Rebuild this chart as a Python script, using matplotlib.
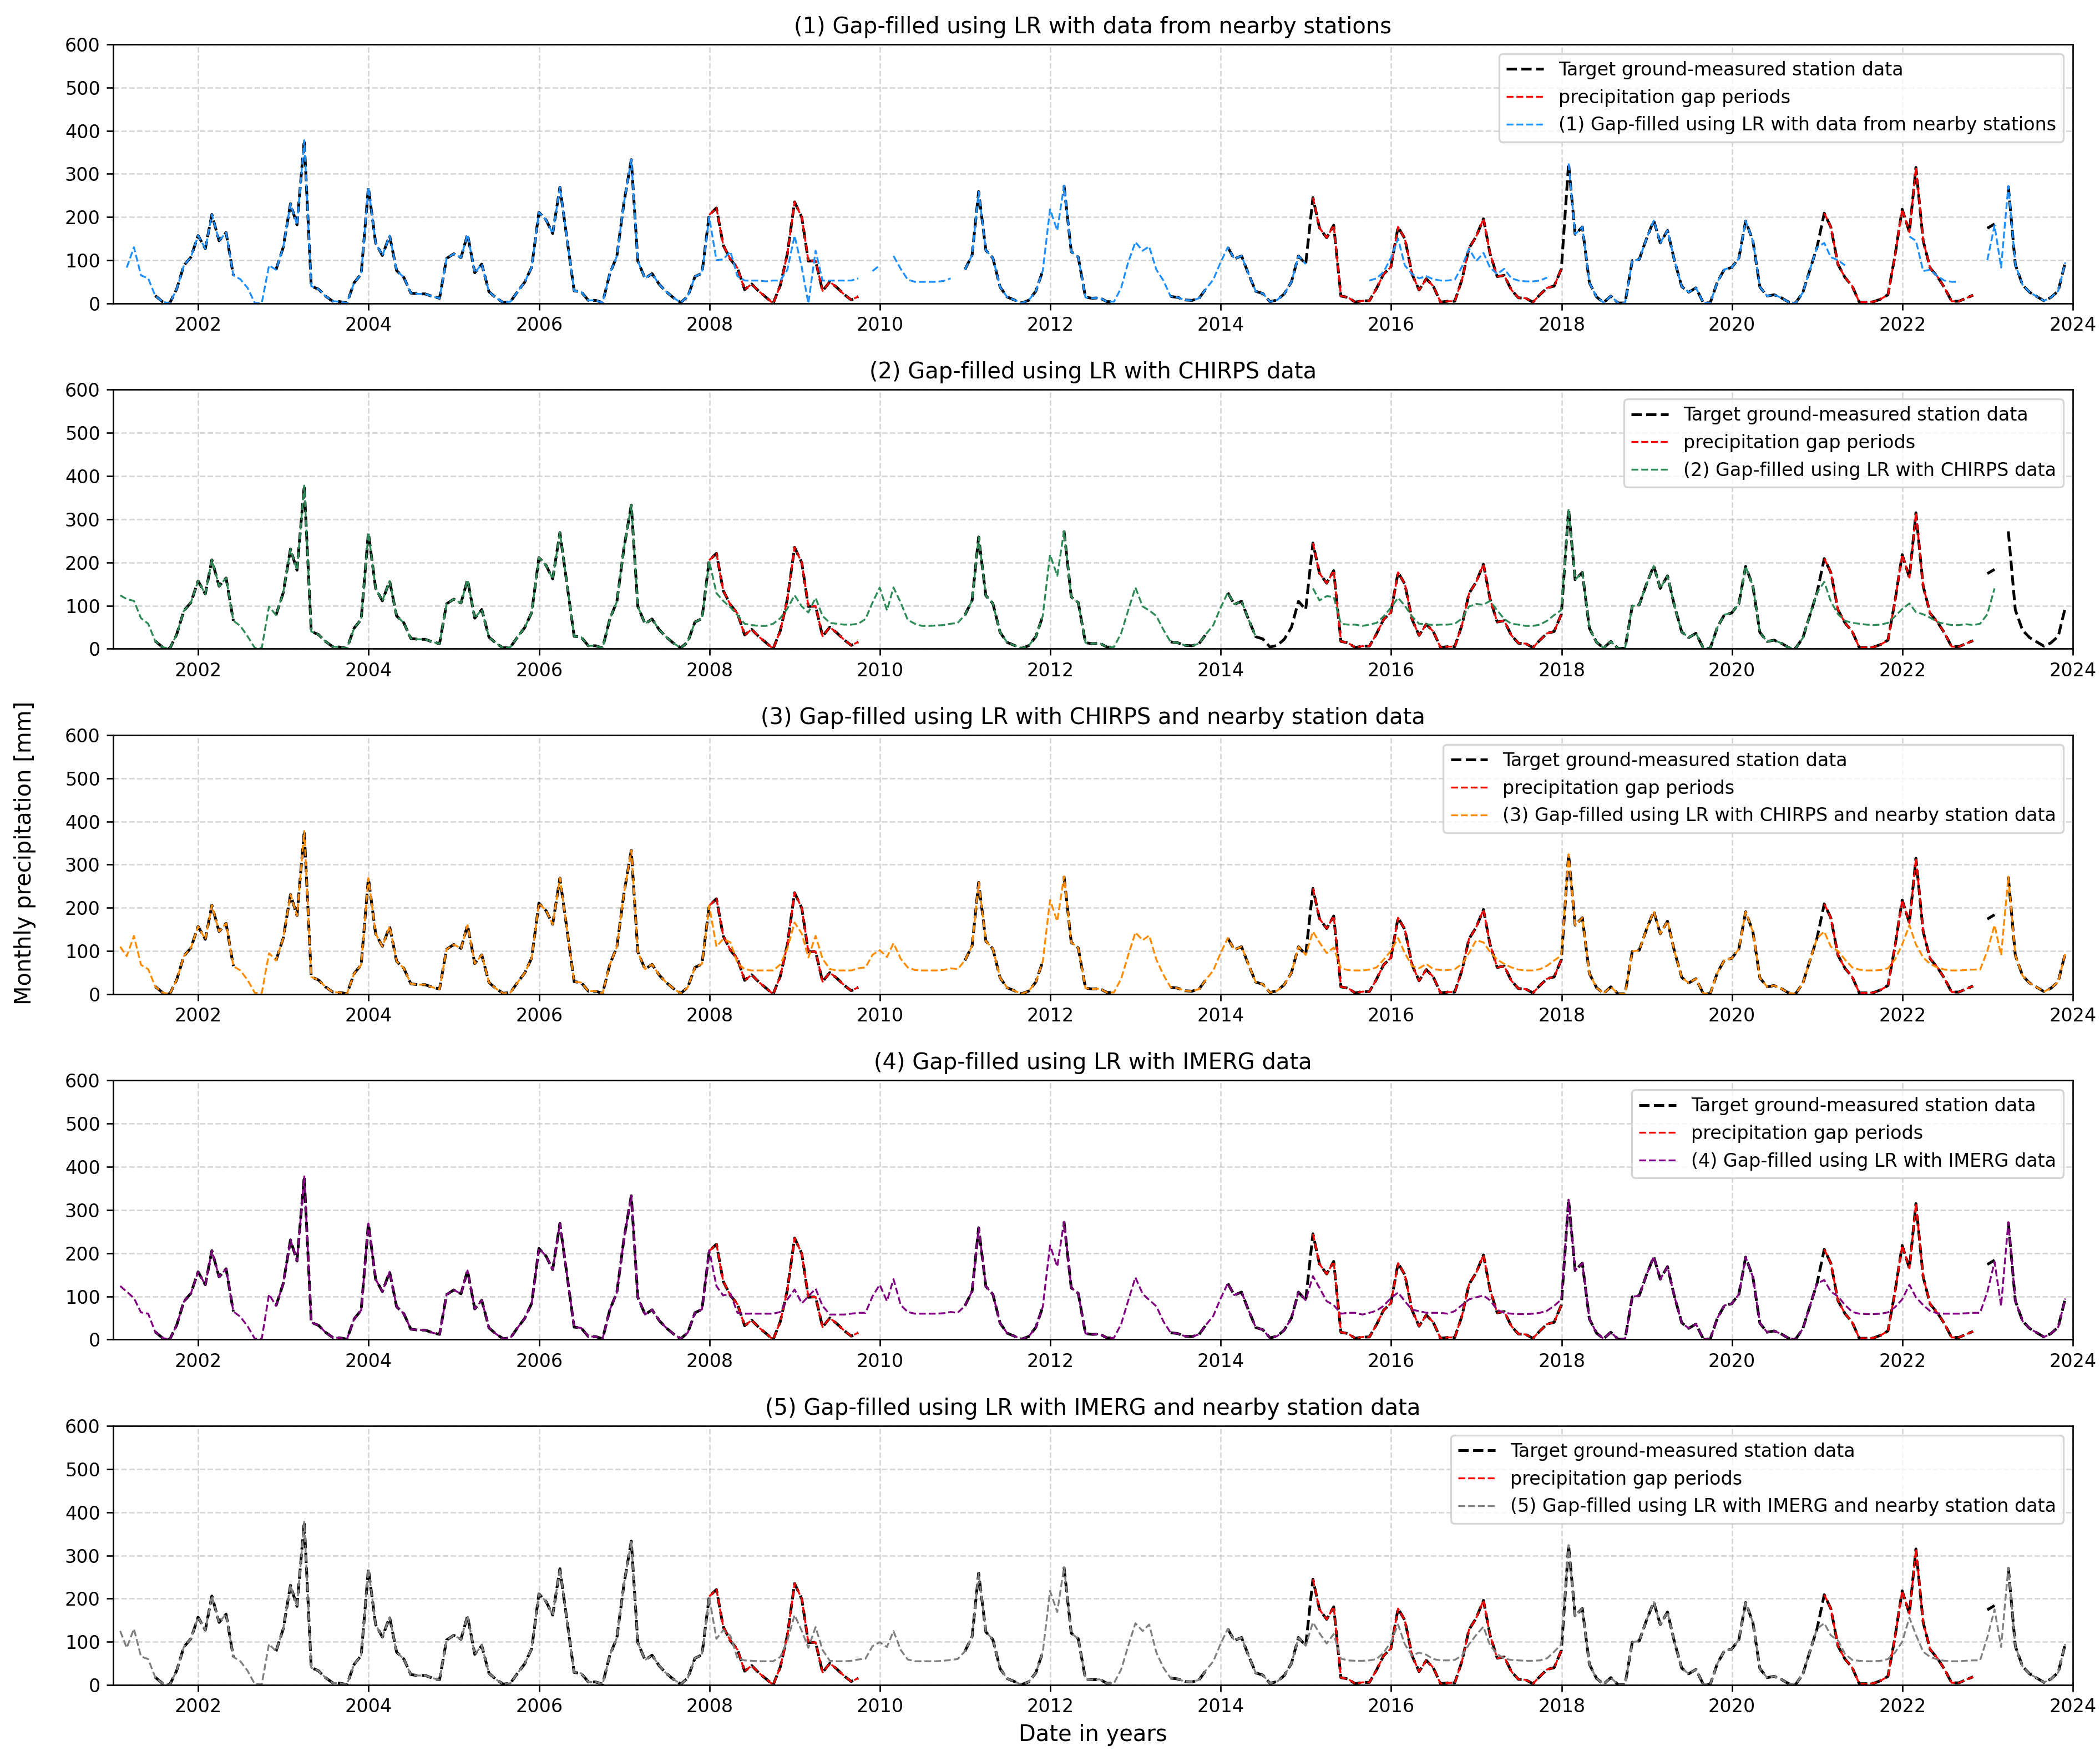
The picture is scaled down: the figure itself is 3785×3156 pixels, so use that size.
import numpy as np
import pandas as pd
import matplotlib
matplotlib.use("Agg")
import matplotlib.pyplot as plt
import matplotlib.dates as mdates

nan = np.nan

# monthly dates (month end), Jan 2001 - Nov 2023
dates = pd.date_range("2001-01-31", periods=275, freq=pd.offsets.MonthEnd())

# target ground-measured station data (nan = missing)
t2001 = [nan, nan, nan, nan, nan, 18, 4, 0, 33, 88, 107, 157]
t2002 = [127, 206, 145, 164, 65, nan, nan, nan, nan, nan, 78, 130]
t2003 = [231, 182, 378, 40, 33, 17, 5, 4, 1, 48, 68, 269]
t2004 = [140, 111, 157, 76, 60, 24, 22, 22, 16, 12, 104, 115]
t2005 = [106, 160, 71, 91, 27, 13, 2, 4, 27, 49, 84, 211]
t2006 = [193, 162, 269, 151, 29, 27, 7, 7, 2, 69, 109, 235]
t2007 = [333, 98, 58, 69, 44, 27, 13, 2, 16, 62, 70, 205]
t2008 = [221, 135, 102, 82, 32, 45, 28, 14, 0, 42, 115, 235]
t2009 = [199, 98, 99, 29, 50, 37, 21, 8, 16, nan, nan, nan]
t2010 = [nan, nan, nan, nan, nan, nan, nan, nan, nan, nan, nan, 78]
t2011 = [112, 259, 123, 105, 38, 15, 8, 1, 7, 28, 76, nan]
t2012 = [nan, 273, 120, 107, 14, 12, 13, 4, 4, nan, nan, nan]
t2013 = [nan, nan, nan, nan, 16, 14, 8, 7, 12, 35, nan, nan]
t2014 = [130, 103, 110, 68, 28, 23, 4, 8, 22, 50, 110, 91]
t2015 = [245, 175, 152, 181, 17, 14, 3, 6, 6, 35, 68, 84]
t2016 = [177, 150, 68, 31, 57, 40, 3, 5, 5, 55, 128, 155]
t2017 = [196, 116, 62, 65, 31, 13, 12, 3, 20, 36, 40, 80]
t2018 = [324, 160, 177, 48, 15, 2, 17, 1, 1, 99, 102, 150]
t2019 = [192, 140, 169, 99, 39, 26, 36, 2, 1, 50, 79, 83]
t2020 = [105, 191, 145, 38, 17, 20, 13, 3, 1, 25, 77, 130]
t2021 = [209, 177, 90, 60, 40, 3, 3, 4, 10, 20, 110, 218]
t2022 = [165, 315, 145, 82, 62, 37, 5, 5, 12, 19, nan, 174]
t2023 = [184, nan, 272, 90, 43, 26, 16, 6, 14, 29, 95]

# artificial gap periods (first month, last month)
gap_periods = [("2007-12", "2009-09"), ("2015-01", "2017-12"), ("2021-01", "2022-10")]

# values filled in where the station has no data, same for all methods
shared_2012 = [218, 169]   # from 2011-12
shared_2013 = [55, 95]     # from 2013-11

# (1) nearby stations
nearby_2001 = [nan, 83, 130, 65, 58]
nearby_2002 = [56, 36, 1, 1, 88]
nearby_gap1 = [200, 100, 102, 120, 63, 53, 53, 53, 51, 53, 53, 78, 157,
               83, 0, 122, 53, 53, 53, 53, 53, 58]
nearby_2010 = [nan, 75, 88, nan, 110, 80, 55, 50, 50, 50, 50, 52, 58, nan]
nearby_2013 = [36, 95, 142, 122, 132, 78, 53]
nearby_gap2 = [nan, nan, nan, nan, nan, nan, nan, nan, 53, 58, 73, 105,
               150, 88, 68, 58, 63, 56, 53, 53, 55, 85, 127, 98,
               117, 83, 68, 80, 58, 53, 51, 51, 53, 60, nan, nan]
nearby_gap3 = [140, 107, 100, 88, nan, nan, nan, nan, nan, nan, nan, nan,
               155, 145, 75, 78, 63, 53, 50, 50, nan, nan]
nearby_2023 = [nan, 100, 181, 83]

# (2) CHIRPS
chirps_2001 = [124, 115, 111, 71, 58]
chirps_2002 = [53, 29, 2, 2, 98]
chirps_gap1 = [203, 129, 111, 96, 78, 58, 55, 53, 53, 58, 71, 93, 124,
               98, 84, 118, 76, 60, 58, 56, 56, 58]
chirps_2010 = [69, 107, 142, 89, 142, 107, 67, 58, 53, 53, 54, 55, 58, 60]
chirps_2013 = [36, 89, 142, 98, 89, 76, 44]
chirps_2014 = [nan, nan, nan, nan, nan, nan, nan]
chirps_gap2 = [140, 112, 122, 120, 58, 56, 56, 53, 56, 60, 75, 95,
               118, 100, 75, 58, 57, 55, 56, 56, 58, 70, 98, 104,
               102, 111, 89, 69, 58, 56, 53, 53, 56, 65, 78, 90]
chirps_gap3 = [155, 110, 80, 65, 60, 58, 56, 55, 56, 60, 75, 92,
               105, 85, 80, 72, 62, 58, 55, 55, 57, 55]
chirps_2023 = [58, 80, 140, nan, nan, nan, nan, nan, nan, nan, nan, nan, nan]

# (3) CHIRPS + nearby stations
chn_2001 = [110, 88, 135, 68, 58]
chn_2002 = [55, 33, 3, 3, 95]
chn_gap1 = [205, 110, 128, 120, 72, 58, 55, 55, 55, 55, 69, 106, 166,
            140, 85, 135, 82, 58, 55, 55, 55, 60]
chn_2010 = [62, 91, 102, 86, 118, 82, 62, 56, 55, 55, 55, 56, 60, 58]
chn_2013 = [36, 90, 143, 125, 136, 80, 45]
chn_gap2 = [145, 120, 95, 108, 60, 56, 55, 55, 57, 62, 80, 100,
            130, 95, 65, 60, 70, 58, 56, 56, 58, 70, 95, 125,
            120, 98, 80, 70, 62, 57, 55, 55, 58, 66, 78, 90]
chn_gap3 = [145, 110, 100, 80, 62, 57, 55, 55, 56, 60, 80, 115,
            160, 115, 85, 70, 62, 57, 55, 55, 56, 57]
chn_2023 = [57, 100, 160, 90]

# (4) IMERG
imerg_2001 = [124, 111, 96, 63, 60]
imerg_2002 = [53, 31, 2, 2, 105]
imerg_gap1 = [207, 124, 102, 107, 62, 60, 60, 60, 60, 60, 64, 93, 116,
              84, 100, 118, 78, 58, 58, 58, 60, 62]
imerg_2010 = [62, 100, 127, 89, 140, 80, 64, 60, 60, 60, 60, 61, 64, 62]
imerg_2013 = [36, 90, 144, 106, 92, 77, 42]
imerg_gap2 = [147, 120, 89, 80, 60, 62, 62, 58, 62, 67, 78, 96,
              109, 89, 69, 66, 62, 62, 62, 60, 66, 80, 93, 98,
              102, 91, 69, 62, 60, 59, 59, 60, 62, 67, 78, 93]
imerg_gap3 = [138, 111, 100, 80, 64, 60, 59, 59, 60, 63, 75, 93,
              127, 98, 80, 66, 61, 60, 60, 60, 61, 62]
imerg_2023 = [62, 110, 180, 78]

# (5) IMERG + nearby stations
imn_2001 = [125, 86, 130, 66, 60]
imn_2002 = [55, 33, 2, 2, 95]
imn_gap1 = [204, 107, 127, 114, 62, 57, 56, 55, 55, 55, 65, 103, 162,
            125, 86, 134, 81, 56, 55, 55, 56, 59]
imn_2010 = [61, 90, 99, 88, 125, 81, 59, 55, 55, 55, 55, 56, 58, 60]
imn_2013 = [36, 90, 143, 125, 140, 75, 40]
imn_gap2 = [145, 120, 96, 118, 61, 57, 56, 56, 57, 60, 75, 99,
            140, 94, 68, 75, 70, 60, 57, 57, 58, 68, 94, 116,
            135, 92, 72, 61, 58, 57, 56, 56, 57, 62, 77, 94]
imn_gap3 = [143, 115, 103, 72, 58, 56, 55, 55, 56, 60, 75, 100,
            156, 116, 77, 65, 59, 56, 55, 55, 56, 57]
imn_2023 = [57, 110, 175, 88]


def month_idx(s):
    return (int(s[:4]) - 2001) * 12 + int(s[5:7]) - 1


target = np.array(t2001 + t2002 + t2003 + t2004 + t2005 + t2006 + t2007 + t2008
                  + t2009 + t2010 + t2011 + t2012 + t2013 + t2014 + t2015 + t2016
                  + t2017 + t2018 + t2019 + t2020 + t2021 + t2022 + t2023, dtype=float)

gap_mask = np.zeros(len(target), dtype=bool)
for a, b in gap_periods:
    gap_mask[month_idx(a):month_idx(b) + 1] = True
gap_series = np.where(gap_mask, target, nan)


def build_filled(pieces):
    s = target.copy()
    for start, vals in pieces + [("2011-12", shared_2012), ("2013-11", shared_2013)]:
        i = month_idx(start)
        s[i:i + len(vals)] = vals
    return s


methods = [
    ("(1) Gap-filled using LR with data from nearby stations", "dodgerblue",
     [("2001-01", nearby_2001), ("2002-06", nearby_2002), ("2007-12", nearby_gap1),
      ("2009-10", nearby_2010), ("2012-10", nearby_2013), ("2015-01", nearby_gap2),
      ("2021-01", nearby_gap3), ("2022-11", nearby_2023)]),
    ("(2) Gap-filled using LR with CHIRPS data", "seagreen",
     [("2001-01", chirps_2001), ("2002-06", chirps_2002), ("2007-12", chirps_gap1),
      ("2009-10", chirps_2010), ("2012-10", chirps_2013), ("2014-06", chirps_2014),
      ("2015-01", chirps_gap2), ("2021-01", chirps_gap3), ("2022-11", chirps_2023)]),
    ("(3) Gap-filled using LR with CHIRPS and nearby station data", "darkorange",
     [("2001-01", chn_2001), ("2002-06", chn_2002), ("2007-12", chn_gap1),
      ("2009-10", chn_2010), ("2012-10", chn_2013), ("2015-01", chn_gap2),
      ("2021-01", chn_gap3), ("2022-11", chn_2023)]),
    ("(4) Gap-filled using LR with IMERG data", "purple",
     [("2001-01", imerg_2001), ("2002-06", imerg_2002), ("2007-12", imerg_gap1),
      ("2009-10", imerg_2010), ("2012-10", imerg_2013), ("2015-01", imerg_gap2),
      ("2021-01", imerg_gap3), ("2022-11", imerg_2023)]),
    ("(5) Gap-filled using LR with IMERG and nearby station data", "gray",
     [("2001-01", imn_2001), ("2002-06", imn_2002), ("2007-12", imn_gap1),
      ("2009-10", imn_2010), ("2012-10", imn_2013), ("2015-01", imn_gap2),
      ("2021-01", imn_gap3), ("2022-11", imn_2023)]),
]

fig, axes = plt.subplots(5, 1, figsize=(3785 / 240, 3156 / 240), dpi=240)
fig.subplots_adjust(left=0.0539, right=0.987, top=0.9747, bottom=0.0377, hspace=0.333)

for ax, (name, color, pieces) in zip(axes, methods):
    filled = build_filled(pieces)
    ax.plot(dates, target, "k--", linewidth=1.5, label="Target ground-measured station data")
    ax.plot(dates, gap_series, "r--", linewidth=1, label="precipitation gap periods")
    ax.plot(dates, filled, "--", color=color, linewidth=1, label=name)
    ax.set_title(name, fontsize=12)
    ax.set_xlim(pd.Timestamp("2001-01-01"), pd.Timestamp("2024-01-01"))
    ax.set_ylim(0, 600)
    ax.set_yticks(range(0, 601, 100))
    ax.xaxis.set_major_locator(mdates.YearLocator(2))
    ax.xaxis.set_major_formatter(mdates.DateFormatter("%Y"))
    ax.grid(True, linestyle="--", alpha=0.5)
    ax.legend(loc="upper right")

axes[-1].set_xlabel("Date in years", fontsize=12)
fig.text(0.012, 0.513, "Monthly precipitation [mm]", rotation=90,
         va="center", ha="center", fontsize=12)

fig.savefig("out.png", dpi=240)
